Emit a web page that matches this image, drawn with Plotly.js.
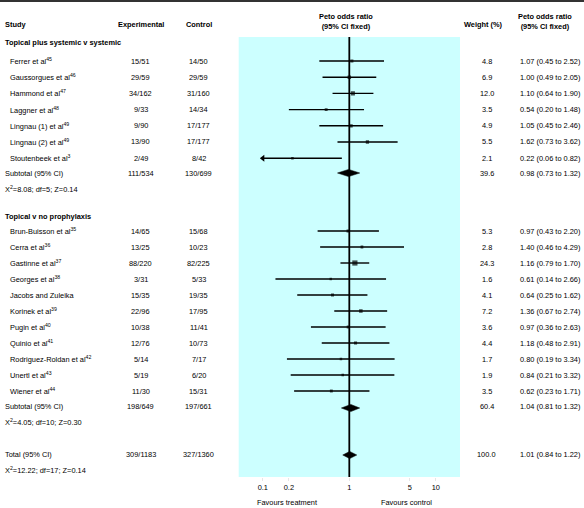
<!DOCTYPE html>
<html><head><meta charset="utf-8">
<script src="https://cdn.plot.ly/plotly-3.0.1.min.js"></script>
<style>html,body{margin:0;padding:0;background:#fff}#chart{width:584px;height:508px}</style>
</head><body><div id="chart"></div>
<script>
// ---- data ----
const g1Title = 'Topical plus systemic v systemic';
const g1Names = ['Ferrer et al<sup>45</sup>','Gaussorgues et al<sup>46</sup>','Hammond et al<sup>47</sup>','Laggner et al<sup>48</sup>','Lingnau (1) et al<sup>49</sup>','Lingnau (2) et al<sup>49</sup>','Stoutenbeek et al<sup>3</sup>'];
const g1Exp = ['15/51','29/59','34/162','9/33','9/90','13/90','2/49'];
const g1Ctl = ['14/50','29/59','31/160','14/34','17/177','17/177','8/42'];
const g1Wt  = [4.8,6.9,12.0,3.5,4.9,5.5,2.1];
const g1OR  = [1.07,1.00,1.10,0.54,1.05,1.62,0.22];
const g1Lo  = [0.45,0.49,0.64,0.20,0.45,0.73,0.06];
const g1Hi  = [2.52,2.05,1.90,1.48,2.46,3.62,0.82];
const sub1  = {exp:'111/534', ctl:'130/699', wt:39.6, or:0.98, lo:0.73, hi:1.32, stat:'Χ<sup>2</sup>=8.08; df=5; Z=0.14'};

const g2Title = 'Topical v no prophylaxis';
const g2Names = ['Brun-Buisson et al<sup>35</sup>','Cerra et al<sup>36</sup>','Gastinne et al<sup>37</sup>','Georges et al<sup>38</sup>','Jacobs and Zuleika','Korinek et al<sup>39</sup>','Pugin et al<sup>40</sup>','Quinio et al<sup>41</sup>','Rodriguez-Roldan et al<sup>42</sup>','Unertl et al<sup>43</sup>','Wiener et al<sup>44</sup>'];
const g2Exp = ['14/65','13/25','88/220','3/31','15/35','22/96','10/38','12/76','5/14','5/19','11/30'];
const g2Ctl = ['15/68','10/23','82/225','5/33','19/35','17/95','11/41','10/73','7/17','6/20','15/31'];
const g2Wt  = [5.3,2.8,24.3,1.6,4.1,7.2,3.6,4.4,1.7,1.9,3.5];
const g2OR  = [0.97,1.40,1.16,0.61,0.64,1.36,0.97,1.18,0.80,0.84,0.62];
const g2Lo  = [0.43,0.46,0.79,0.14,0.25,0.67,0.36,0.48,0.19,0.21,0.23];
const g2Hi  = [2.20,4.29,1.70,2.66,1.62,2.74,2.63,2.91,3.34,3.32,1.71];
const sub2  = {exp:'198/649', ctl:'197/661', wt:60.4, or:1.04, lo:0.81, hi:1.32, stat:'Χ<sup>2</sup>=4.05; df=10; Z=0.30'};
const total = {exp:'309/1183', ctl:'327/1360', wt:100.0, or:1.01, lo:0.84, hi:1.22, stat:'Χ<sup>2</sup>=12.22; df=17; Z=0.14'};

const tickVals = [0.1,0.2,1,5,10];
const tickText = ['0.1','0.2','1','5','10'];
const favLeft = 'Favours treatment', favRight = 'Favours control';
const refOR = 1;
const clipLo = 0.1;

// ---- layout geometry (pixels) ----
const W = 584, H = 508;
const plotTop = 37, plotBot = 477;
const FONT = '"Liberation Sans", Arial, sans-serif';
const FS = 7.4;
const g1HeadY = 43, g1Y0 = 61, g1Step = 16.2;
const g2HeadY = 216, g2Y0 = 231, g2Step = 16;
const colName = 2.7, colIndent = 8, colExp = 140.5, colCtl = 199, colWt = 486.5, colCIleft = 518;

const g1Y = g1Names.map((_,i)=>g1Y0 + i*g1Step);
const g2Y = g2Names.map((_,i)=>g2Y0 + i*g2Step);
const sub1Y = g1Y[g1Y.length-1] + 14.8, stat1Y = sub1Y + 16;
const sub2Y = g2Y[g2Y.length-1] + 15, stat2Y = sub2Y + 16;
const totY = stat2Y + 32, statTY = totY + 16;
const diaOff2 = 2;

const fmt = v => v.toFixed(2);
const ciText = (o,l,h) => `${fmt(o)} (${fmt(l)} to ${fmt(h)})`;

const ann = [];
function txt(px, y, t, anchor, bold){
  ann.push({xref:'paper', yref:'paper', x:px/W, y:1-y/H, text: bold?'<b>'+t+'</b>':t, showarrow:false,
    xanchor:anchor||'left', yanchor:'middle', font:{family:FONT, size:FS, color:'#000'}});
}
// headers
txt(colName, 24, 'Study', 'left', true);
txt(colExp, 24, 'Experimental', 'center', true);
txt(colCtl, 24, 'Control', 'center', true);
txt(346, 21, 'Peto odds ratio<br>(95% CI fixed)', 'center', true);
txt(483, 24, 'Weight (%)', 'center', true);
txt(545, 21, 'Peto odds ratio<br>(95% CI fixed)', 'center', true);

function group(title, headY, names, ys, exp, ctl, wt, or, lo, hi){
  txt(colName, headY, title, 'left', true);
  names.forEach((n,i)=>{
    txt(colIndent, ys[i], n, 'left');
    txt(colExp, ys[i], exp[i], 'center');
    txt(colCtl, ys[i], ctl[i], 'center');
    txt(colWt, ys[i], wt[i].toFixed(1), 'center');
    txt(colCIleft, ys[i], ciText(or[i],lo[i],hi[i]), 'left');
  });
}
group(g1Title, g1HeadY, g1Names, g1Y, g1Exp, g1Ctl, g1Wt, g1OR, g1Lo, g1Hi);
group(g2Title, g2HeadY, g2Names, g2Y, g2Exp, g2Ctl, g2Wt, g2OR, g2Lo, g2Hi);
function summary(label, y, s, statY){
  txt(colName, y, label, 'left');
  txt(colExp, y, s.exp, 'center');
  txt(colCtl, y, s.ctl, 'center');
  txt(colWt, y, s.wt.toFixed(1), 'center');
  txt(colCIleft, y, ciText(s.or,s.lo,s.hi), 'left');
  txt(colName, statY, s.stat, 'left');
}
summary('Subtotal (95% CI)', sub1Y, sub1, stat1Y);
summary('Subtotal (95% CI)', sub2Y, sub2, stat2Y);
summary('Total (95% CI)', totY, total, statTY);
txt(286.7, 502, favLeft, 'center');
txt(406.7, 502, favRight, 'center');

// ---- traces ----
const allY = g1Y.concat(g2Y), allOR = g1OR.concat(g2OR), allLo = g1Lo.concat(g2Lo), allHi = g1Hi.concat(g2Hi), allWt = g1Wt.concat(g2Wt);
const lx = [], ly = [];
allY.forEach((y,i)=>{ lx.push(Math.max(allLo[i],clipLo), allHi[i], null); ly.push(y,y,null); });
const traces = [];
traces.push({x:[refOR,refOR], y:[plotTop,plotBot], mode:'lines', line:{color:'#000', width:1.8}, hoverinfo:'skip'});
traces.push({x:lx, y:ly, mode:'lines', line:{color:'#000', width:1.4}, hoverinfo:'skip'});
traces.push({x:allOR, y:allY, mode:'markers', marker:{symbol:'square', color:'#000', size:allWt.map(w=>1.5+0.75*Math.sqrt(w)), line:{width:0}}, hoverinfo:'skip'});
const ax=[], ay=[];
allY.forEach((y,i)=>{ if(allLo[i]<clipLo){ ax.push(clipLo); ay.push(y);} });
traces.push({x:ax, y:ay, mode:'markers', marker:{symbol:'triangle-left', color:'#000', size:6, line:{width:0}}, hoverinfo:'skip'});
function diamond(s, y){
  return {x:[s.lo, s.or, s.hi, s.or, s.lo], y:[y, y-3.6, y, y+3.6, y], mode:'lines', fill:'toself', fillcolor:'#000', line:{color:'#000', width:0.5}, hoverinfo:'skip'};
}
traces.push(diamond(sub1, sub1Y));
traces.push(diamond(sub2, sub2Y+diaOff2));
traces.push(diamond(total, totY+diaOff2-1));

const layout = {
  width:W, height:H, margin:{l:0,r:0,t:0,b:0,pad:0},
  paper_bgcolor:'#fff', plot_bgcolor:'#ccffff', showlegend:false,
  xaxis:{type:'log', domain:[238.7/W, 460/W], range:[-1.279,1.28], tickvals:tickVals, ticktext:tickText,
    ticks:'outside', ticklen:3, tickcolor:'#e6e6e6', showgrid:false, zeroline:false, showline:false,
    tickfont:{family:FONT, size:FS, color:'#000'}, fixedrange:true},
  yaxis:{domain:[(H-plotBot)/H, (H-plotTop)/H], range:[plotBot, plotTop], visible:false, showgrid:false, zeroline:false, fixedrange:true},
  shapes:[{type:'line', xref:'paper', yref:'paper', x0:0, x1:1, y0:1-1/H, y1:1-1/H, line:{color:'#333', width:2}}],
  annotations: ann
};
Plotly.newPlot('chart', traces, layout, {displayModeBar:false, staticPlot:true});
</script></body></html>
